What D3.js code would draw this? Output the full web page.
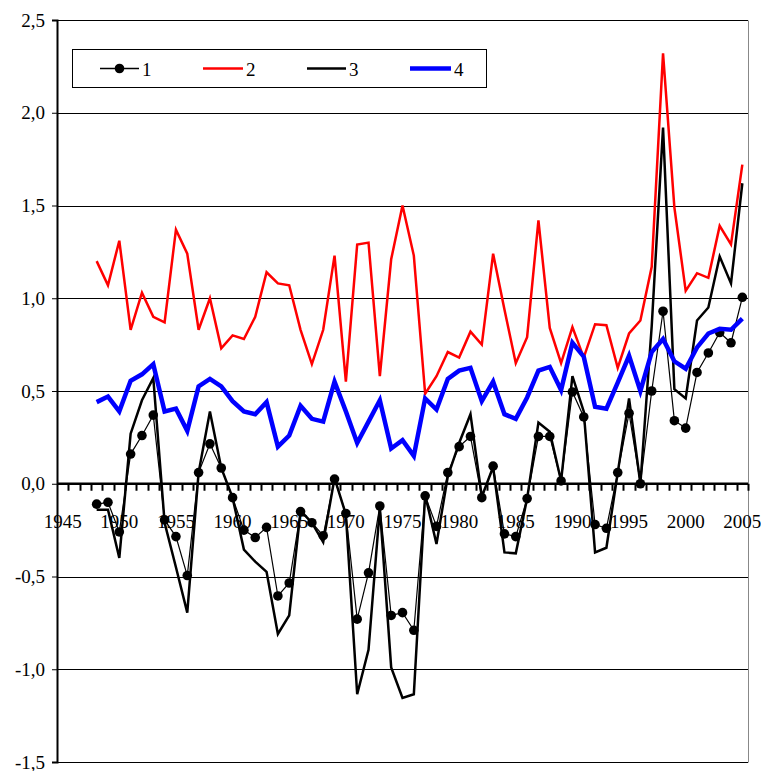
<!DOCTYPE html>
<html>
<head>
<meta charset="utf-8">
<script src="https://cdn.jsdelivr.net/npm/d3@7"></script>
<style>
  html, body { margin: 0; padding: 0; background: #fff; }
  svg { display: block; }
  svg text { font-family: "Liberation Serif", "DejaVu Serif", serif; fill: #000; }
</style>
</head>
<body>
<svg id="chart" width="761" height="771"></svg>
<script>
// ---- data ----
const categories = d3.range(1945, 2006);          // axis categories
const years = d3.range(1948, 2006);               // data years
const xTickLabels = [1945, 1950, 1955, 1960, 1965, 1970, 1975, 1980, 1985, 1990, 1995, 2000, 2005];
const yTickValues = [-1.5, -1.0, -0.5, 0.0, 0.5, 1.0, 1.5, 2.0, 2.5];
const seriesNames = ["1", "2", "3", "4"];

const series1 = [-0.11, -0.10, -0.26, 0.16, 0.26, 0.37, -0.195, -0.285, -0.495, 0.06,
  0.215, 0.085, -0.075, -0.25, -0.29, -0.235, -0.605, -0.535, -0.15, -0.21,
  -0.28, 0.025, -0.16, -0.73, -0.48, -0.12, -0.71, -0.695, -0.79, -0.065,
  -0.23, 0.06, 0.20, 0.255, -0.075, 0.095, -0.27, -0.285, -0.08, 0.255,
  0.255, 0.015, 0.495, 0.36, -0.22, -0.24, 0.06, 0.38, 0.0, 0.50,
  0.93, 0.34, 0.30, 0.60, 0.705, 0.815, 0.76, 1.005];

const series2 = [1.20, 1.07, 1.31, 0.83, 1.03, 0.90, 0.87, 1.37, 1.24, 0.83,
  1.00, 0.73, 0.80, 0.78, 0.90, 1.14, 1.08, 1.07, 0.83, 0.645,
  0.83, 1.23, 0.55, 1.29, 1.30, 0.58, 1.21, 1.50, 1.23, 0.485,
  0.58, 0.71, 0.68, 0.82, 0.75, 1.24, 0.94, 0.65, 0.79, 1.42,
  0.84, 0.65, 0.845, 0.68, 0.86, 0.855, 0.625, 0.81, 0.88, 1.17,
  2.32, 1.49, 1.04, 1.135, 1.11, 1.39, 1.29, 1.72];

const series3 = [-0.14, -0.14, -0.40, 0.27, 0.45, 0.57, -0.21, -0.45, -0.695, 0.06,
  0.39, 0.085, -0.075, -0.355, -0.42, -0.475, -0.81, -0.71, -0.145, -0.21,
  -0.315, 0.03, -0.165, -1.135, -0.895, -0.13, -0.99, -1.155, -1.135, -0.06,
  -0.325, 0.04, 0.22, 0.375, -0.07, 0.09, -0.37, -0.375, -0.08, 0.33,
  0.28, 0.015, 0.58, 0.39, -0.37, -0.345, 0.06, 0.46, 0.0, 0.85,
  1.92, 0.51, 0.46, 0.88, 0.95, 1.225, 1.08, 1.62];

const series4 = [0.44, 0.47, 0.39, 0.555, 0.59, 0.645, 0.39, 0.405, 0.285, 0.525,
  0.565, 0.525, 0.445, 0.39, 0.375, 0.44, 0.20, 0.26, 0.42, 0.35,
  0.335, 0.55, 0.39, 0.22, 0.335, 0.45, 0.19, 0.235, 0.15, 0.46,
  0.40, 0.565, 0.61, 0.625, 0.445, 0.55, 0.375, 0.35, 0.465, 0.61,
  0.63, 0.505, 0.76, 0.685, 0.415, 0.405, 0.545, 0.69, 0.50, 0.71,
  0.78, 0.66, 0.62, 0.735, 0.81, 0.835, 0.83, 0.89];

// ---- layout ----
const svg = d3.select("#chart");
const L = 57, R = 748, T = 20, B = 762;
const FS = 19;
const FONT = "'Liberation Serif', 'DejaVu Serif', serif";

const x = d3.scaleBand().domain(categories).range([L, R]).padding(0);
const y = d3.scaleLinear().domain([-1.5, 2.5]).range([B, T]);
const cx = yr => x(yr) + x.bandwidth() / 2;

const loc = d3.formatLocale({decimal: ",", thousands: " ", grouping: [3], currency: ["", ""], minus: "-"});
const fmt = loc.format(".1f");

// gridlines
svg.append("g").selectAll("line").data(yTickValues).join("line")
  .attr("x1", L).attr("x2", R)
  .attr("y1", d => Math.round(y(d)) + 0.5).attr("y2", d => Math.round(y(d)) + 0.5)
  .attr("stroke", "#000").attr("stroke-width", 1);

// right border
svg.append("line").attr("x1", R + 0.5).attr("x2", R + 0.5)
  .attr("y1", Math.round(y(2.5)) + 0.5).attr("y2", Math.round(y(-1.5)) + 0.5)
  .attr("stroke", "#888").attr("stroke-width", 1);

// y axis
const yAxis = d3.axisLeft(y).tickValues(yTickValues).tickFormat(fmt).tickSize(5).tickPadding(7);
const gy = svg.append("g").attr("transform", `translate(${L},0)`).call(yAxis)
  .attr("font-family", FONT).attr("font-size", FS);
gy.select(".domain").attr("stroke", "#000").attr("stroke-width", 2);
gy.selectAll(".tick line").attr("stroke", "#000").attr("stroke-width", 1);
gy.selectAll("text").style("font-family", FONT).style("font-size", FS + "px").attr("fill", "#000");

// x axis at y=0
const y0 = y(0);
const gx = svg.append("g").attr("transform", `translate(0,${y0})`);
gx.append("line").attr("x1", L).attr("x2", R).attr("y1", 0).attr("y2", 0)
  .attr("stroke", "#000").attr("stroke-width", 2.5);
gx.selectAll("line.tk").data(categories.slice(1).concat([2006])).join("line").attr("class", "tk")
  .attr("x1", d => Math.round(d === 2006 ? R : x(d)) + 0.5)
  .attr("x2", d => Math.round(d === 2006 ? R : x(d)) + 0.5)
  .attr("y1", 0).attr("y2", 7).attr("stroke", "#000").attr("stroke-width", 2);
gx.selectAll("text").data(xTickLabels).join("text")
  .attr("x", d => cx(d)).attr("y", 44)
  .attr("text-anchor", "middle")
  .style("font-family", FONT).style("font-size", FS + "px")
  .text(d => d);

// lines
const line = d3.line().x((d, i) => cx(years[i])).y(d => y(d));

const gl = svg.append("g");
gl.append("path").datum(series1).attr("d", line).attr("fill", "none").attr("stroke", "#000").attr("stroke-width", 1.2);
gl.append("g").selectAll("circle").data(series1).join("circle")
  .attr("cx", (d, i) => cx(years[i])).attr("cy", d => y(d)).attr("r", 4.8).attr("fill", "#000");
gl.append("path").datum(series2).attr("d", line).attr("fill", "none").attr("stroke", "#ff0000").attr("stroke-width", 2.5);
gl.append("path").datum(series3).attr("d", line).attr("fill", "none").attr("stroke", "#000").attr("stroke-width", 2.5);
gl.append("path").datum(series4).attr("d", line).attr("fill", "none").attr("stroke", "#0000ff").attr("stroke-width", 4.5);

// legend
const lg = svg.append("g");
lg.append("rect").attr("x", 72.5).attr("y", 49.5).attr("width", 414).attr("height", 38)
  .attr("fill", "#fff").attr("stroke", "#000").attr("stroke-width", 1);
const legendItems = [
  {name: seriesNames[0], x1: 100, x2: 139, color: "#000", w: 1.5, dot: true},
  {name: seriesNames[1], x1: 203, x2: 243, color: "#ff0000", w: 2.5},
  {name: seriesNames[2], x1: 307, x2: 346, color: "#000", w: 2.5},
  {name: seriesNames[3], x1: 410, x2: 451, color: "#0000ff", w: 4.5}
];
const ly = 68.5;
legendItems.forEach(it => {
  lg.append("line").attr("x1", it.x1).attr("x2", it.x2).attr("y1", ly).attr("y2", ly)
    .attr("stroke", it.color).attr("stroke-width", it.w);
  if (it.dot) lg.append("circle").attr("cx", (it.x1 + it.x2) / 2).attr("cy", ly).attr("r", 4.8).attr("fill", "#000");
  lg.append("text").attr("x", it.x2 + 3).attr("y", ly + 7)
    .style("font-family", FONT).style("font-size", FS + "px").text(it.name);
});
</script>
</body>
</html>
